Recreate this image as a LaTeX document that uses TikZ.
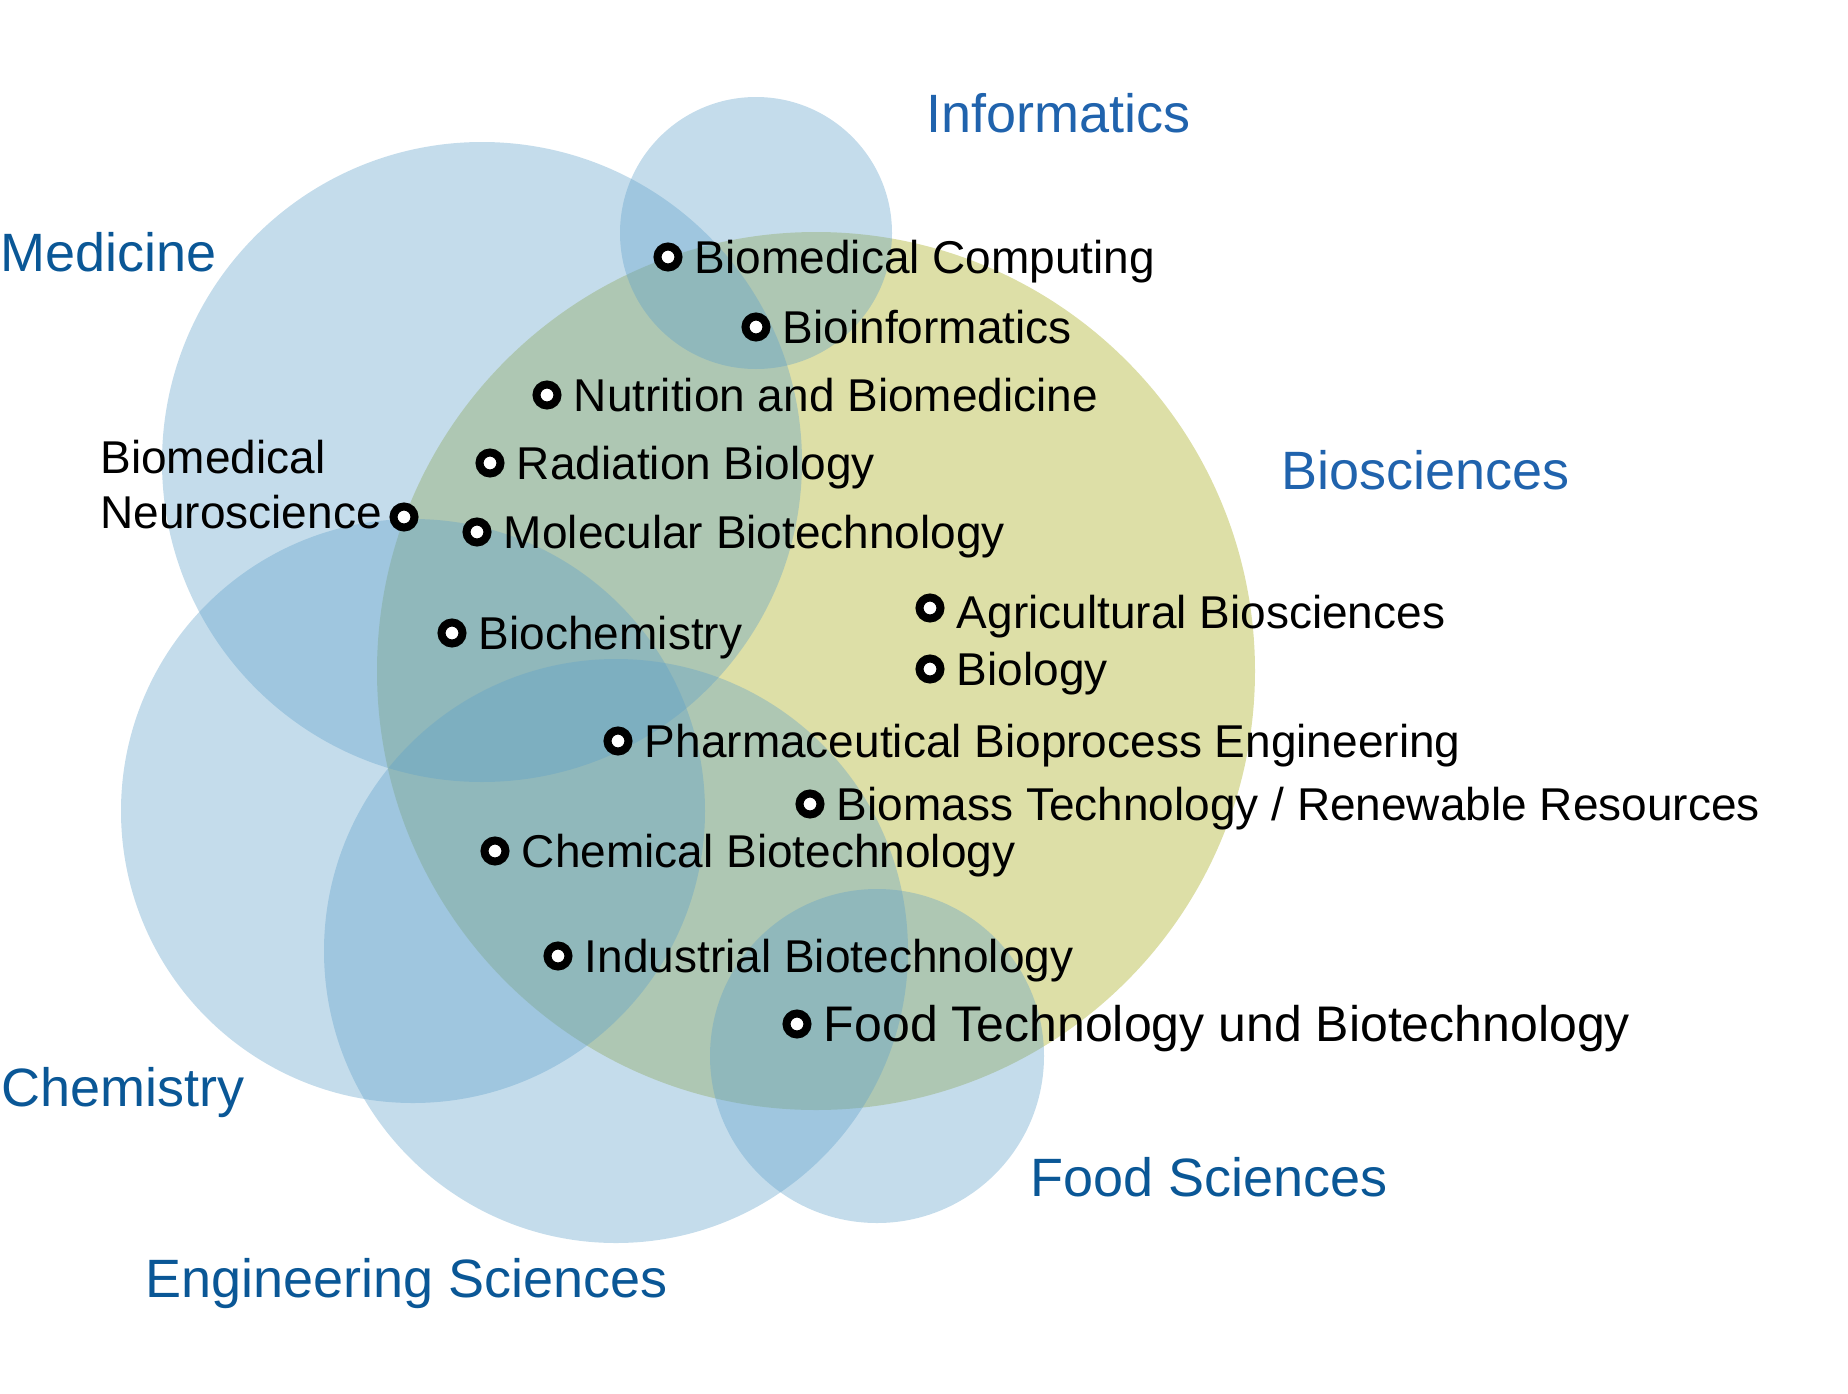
\documentclass[tikz,border=0pt]{standalone}
\usepackage{fontspec}
\setmainfont{Liberation Sans}
\usepackage{tikz}
\usetikzlibrary{positioning}
\definecolor{fieldblue}{RGB}{95,160,201}
\definecolor{bioyellow}{RGB}{221,223,167}
\definecolor{areadark}{RGB}{10,87,150}
\definecolor{arealight}{RGB}{32,99,173}
\tikzstyle{field} = [fill=fieldblue, fill opacity=0.37]
\tikzstyle{course} = [circle, draw=black, fill=white, line width=4pt, minimum size=10.5pt, inner sep=0pt]
\tikzstyle{topic} = [inner sep=0pt, text height=16.5pt, text depth=0.5pt, font=\fontsize{23}{27.6}\selectfont]
\tikzstyle{area} = [inner sep=0pt, anchor=base west, font=\fontsize{27}{32}\selectfont, text=areadark]

\begin{document}
\begin{tikzpicture}[x=0.5pt, y=-0.5pt, node distance=6pt]
        \useasboundingbox (0,0) rectangle (1848,1393);
        \fill[bioyellow] (816,671) circle[radius=219.5pt];
        \fill[field] (756,233) circle[radius=68pt];
        \fill[field] (482,462) circle[radius=160pt];
        \fill[field] (413,811) circle[radius=146pt];
        \fill[field] (616,951) circle[radius=146pt];
        \fill[field] (877,1056) circle[radius=83.5pt];

        \node[area, text=arealight] (Inf) at (926,132) {Informatics};
        \node[area] (Med) at (0,271) {Medicine};
        \node[area, text=arealight] (Bio) at (1281,489) {Biosciences};
        \node[area] (Chem) at (1,1106) {Chemistry};
        \node[area] (Food) at (1030,1196) {Food Sciences};
        \node[area] (Eng) at (145,1297) {Engineering Sciences};

        \node[course] (BC) at (668,257) {};
        \node[topic, right=of BC] (BCt) {Biomedical Computing};
        \node[course] (BI) at (756,327) {};
        \node[topic, right=of BI] (BIt) {Bioinformatics};
        \node[course] (NB) at (547,395) {};
        \node[topic, right=of NB] (NBt) {Nutrition and Biomedicine};
        \node[course] (RB) at (490,463) {};
        \node[topic, right=of RB] (RBt) {Radiation Biology};
        \node[course] (BN) at (404,517) {};
        \node[topic, text height=, text depth=, align=left, anchor=north west] (BNt) at (100,440) {Biomedical\\Neuroscience};
        \node[course] (MB) at (477,532) {};
        \node[topic, right=of MB] (MBt) {Molecular Biotechnology};
        \node[course] (BCh) at (452,633) {};
        \node[topic, right=of BCh] (BCht) {Biochemistry};
        \node[course] (AB) at (930,608) {};
        \node[topic, right=of AB, yshift=-2pt] (ABt) {Agricultural Biosciences};
        \node[course] (BY) at (930,669) {};
        \node[topic, right=of BY] (BYt) {Biology};
        \node[course] (PB) at (618,741) {};
        \node[topic, right=of PB] (PBt) {Pharmaceutical Bioprocess Engineering};
        \node[course] (BT) at (810,804) {};
        \node[topic, right=of BT] (BTt) {Biomass Technology / Renewable Resources};
        \node[course] (CB) at (495,851) {};
        \node[topic, right=of CB] (CBt) {Chemical Biotechnology};
        \node[course] (IB) at (558,956) {};
        \node[topic, right=of IB] (IBt) {Industrial Biotechnology};
        \node[course] (FT) at (797,1024) {};
        \node[topic, right=of FT, font=\fontsize{25}{30}\selectfont, text height=18pt] (FTt) {Food Technology und Biotechnology};

    \end{tikzpicture}
\end{document}
